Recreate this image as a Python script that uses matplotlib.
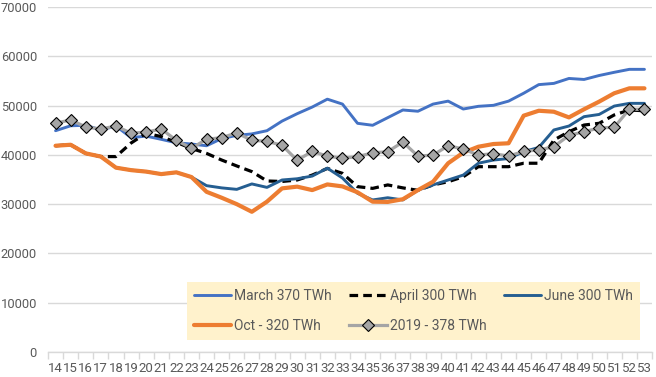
import matplotlib
matplotlib.use("Agg")
import matplotlib.pyplot as plt
import numpy as np

plt.rcParams['font.family'] = ['Roboto', 'DejaVu Sans']

weeks = [str(w) for w in range(14, 54)]

march = [44900, 45900, 46000, 45050, 45850, 43500, 43800, 43150, 42450, 42200,
         41850, 43300, 43950, 44250, 44900, 46850, 48350, 49700, 51300, 50300,
         46400, 46000, 47550, 49100, 48850, 50300, 50900, 49300, 49850, 50050,
         50900, 52500, 54250, 54500, 55500, 55300, 56100, 56750, 57350, 57350]

april = [41850, 42050, 40300, 39650, 39650, 42400, 44400, 43700, 42550, 41300,
         40300, 38950, 37750, 36600, 34700, 34600, 34900, 35900, 37250, 36250,
         33550, 33200, 33900, 33300, 32800, 33900, 34550, 35550, 37600, 37600,
         37600, 38300, 38300, 43000, 44700, 46050, 46400, 48100, 49100, 48950]

june = [41850, 42050, 40300, 39650, 37400, 36900, 36600, 36100, 36450, 35500,
        33750, 33300, 33000, 34100, 33400, 34900, 35150, 35700, 37300, 35300,
        32200, 30850, 31300, 30850, 32850, 33900, 34900, 35900, 38300, 38950,
        39250, 40650, 41500, 45050, 45850, 47750, 48200, 49900, 50450, 50450]

octo = [41850, 42050, 40300, 39650, 37400, 36900, 36600, 36100, 36450, 35500,
        32500, 31300, 30000, 28450, 30500, 33200, 33550, 32850, 34000, 33600,
        32400, 30500, 30450, 31000, 32850, 34550, 38300, 40450, 41650, 42200,
        42350, 47950, 48950, 48750, 47600, 49250, 50800, 52500, 53500, 53500]

y2019 = [46400, 47100, 45650, 45250, 45850, 44400, 44600, 45250, 42950, 41350,
         43150, 43500, 44450, 42950, 42750, 41950, 38900, 40700, 39750, 39300,
         39650, 40400, 40650, 42600, 39750, 39950, 41850, 41200, 39950, 40250,
         39750, 40700, 41000, 41650, 43950, 44700, 45450, 45600, 49250, 49250]

fig = plt.figure(figsize=(6.56, 3.77), dpi=100)
ax = fig.add_axes([48/656, 1-352/377, 604/656, 345/377])

x = np.arange(len(weeks))
l_mar, = ax.plot(x, march, color='#4472C4', lw=2.1, label='March 370 TWh', solid_capstyle='round')
l_apr, = ax.plot(x, april, color='black', lw=2.3, dashes=(2.7, 1.6), label='April 300 TWh')
l_jun, = ax.plot(x, june, color='#255E91', lw=2.1, label='June 300 TWh', solid_capstyle='round')
l_oct, = ax.plot(x, octo, color='#ED7D31', lw=3.0, label='Oct - 320 TWh', solid_capstyle='round')
l_19, = ax.plot(x, y2019, color='#A5A5A5', lw=2.3, marker='D', markersize=6.3,
                markerfacecolor='#A5A5A5', markeredgecolor='black', markeredgewidth=0.8,
                label='2019 - 378 TWh')

ax.set_xlim(-0.5, len(weeks) - 0.5)
ax.set_ylim(0, 70000)
ax.set_yticks(np.arange(0, 70001, 10000))
ax.yaxis.grid(True, color='#D9D9D9', lw=1.0)
ax.set_axisbelow(True)
for s in ['top', 'right', 'left']:
    ax.spines[s].set_visible(False)
ax.spines['bottom'].set_color('#D9D9D9')
ax.spines['bottom'].set_linewidth(1.0)

ax.set_xticks(x)
ax.set_xticklabels(weeks)
ax.set_xticks(np.arange(-0.5, len(weeks), 1.0), minor=True)
ax.tick_params(axis='x', which='major', length=0, pad=7, labelsize=9.5, labelcolor='#595959')
ax.tick_params(axis='x', which='minor', length=5, color='#D9D9D9', width=1)
ax.tick_params(axis='y', length=0, pad=8, labelsize=9.3, labelcolor='#595959')

handles = [l_mar, l_oct, l_apr, l_19, l_jun]
leg = ax.legend(handles=handles, labels=[h.get_label() for h in handles], ncol=3,
                loc='lower left', bbox_to_anchor=(0.23, 0.035, 0.75, 0.174),
                mode='expand', borderaxespad=0, frameon=True, fancybox=False,
                facecolor='#FFF2CC', edgecolor='none', framealpha=1,
                fontsize=10, handlelength=2.7, handletextpad=0.2,
                labelspacing=1.15, borderpad=0.5)
for t in leg.get_texts():
    t.set_color('#595959')

fig.savefig('out.png', dpi=100)
